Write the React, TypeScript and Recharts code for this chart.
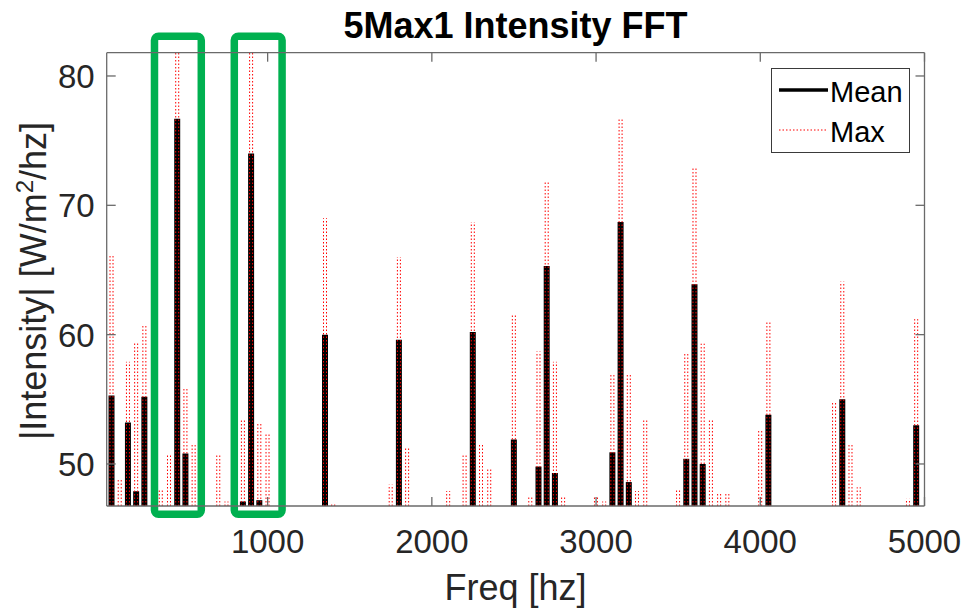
import React from "react";
import { ComposedChart, Bar, XAxis, YAxis, ReferenceArea } from "recharts";

// Mean spectrum peaks (Hz / W/m^2/hz, dB-like scale)
const meanFreq = [50, 150, 200, 250, 450, 500, 850, 900, 950, 1350, 1800, 2250, 2500, 2650, 2700, 2750, 3100, 3150, 3200, 3550, 3600, 3650, 4050, 4500, 4950];
const meanVal = [55.3, 53.2, 47.9, 55.2, 76.7, 50.8, 47.1, 74.0, 47.2, 60.0, 59.6, 60.2, 51.9, 49.8, 65.3, 49.3, 50.9, 68.7, 48.6, 50.4, 63.9, 50.0, 53.8, 55.0, 53.0];

// Max spectrum peaks
const maxFreq = [50, 100, 150, 200, 250, 350, 400, 450, 500, 550, 700, 750, 850, 900, 950, 1000, 1350, 1400, 1750, 1800, 1850, 2100, 2200, 2250, 2300, 2350, 2500, 2600, 2650, 2700, 2750, 2800, 3000, 3050, 3100, 3150, 3200, 3250, 3300, 3500, 3550, 3600, 3650, 3700, 3750, 3800, 4000, 4050, 4450, 4500, 4550, 4600, 4900, 4950];
const maxVal = [66.2, 48.9, 57.9, 59.4, 60.7, 48.0, 50.7, 81.8, 55.9, 51.6, 50.7, 47.1, 53.5, 81.8, 53.1, 52.4, 69.0, 47.0, 48.4, 66.0, 51.3, 47.9, 50.7, 68.7, 51.6, 49.6, 61.6, 47.5, 58.7, 71.8, 57.9, 47.5, 47.5, 47.1, 56.9, 76.7, 56.9, 47.9, 53.4, 48.0, 58.6, 73.0, 59.3, 53.5, 47.8, 47.7, 52.6, 61.0, 54.8, 64.1, 51.6, 48.2, 47.3, 61.2];

const xTicks = [1000, 2000, 3000, 4000, 5000];
const yTicks = [50, 60, 70, 80];
const freqDomain: [number, number] = [20, 5000];
const intensityDomain: [number, number] = [46.75, 81.8];

// green highlight boxes drawn on top of the figure
const highlightBands = [
  [311, 596],
  [797, 1088],
];
const highlightLow = 46.12;
const highlightHigh = 83.08;

const allFreq = Array.from(new Set([...meanFreq, ...maxFreq])).sort((a, b) => a - b);
const chartData = allFreq.map((f) => {
  const mi = meanFreq.indexOf(f);
  const xi = maxFreq.indexOf(f);
  return { f, mean: mi >= 0 ? meanVal[mi] : null, max: xi >= 0 ? maxVal[xi] : null };
});

const AXIS = "#6a6a6a";
const TEXT = "#262626";
const FONT = '"Liberation Sans", Arial, Helvetica, sans-serif';
const TICK_LEN = 9;

const BottomTick = ({ x, y, payload }: any) => (
  <g>
    <line x1={x} x2={x} y1={y} y2={y - TICK_LEN} stroke={AXIS} strokeWidth={1.3} />
    <text x={x} y={y + 47} textAnchor="middle" fontSize={33} fill={TEXT} fontFamily={FONT}>
      {payload.value}
    </text>
  </g>
);

const TopTick = ({ x, y }: any) => (
  <line x1={x} x2={x} y1={y} y2={y + TICK_LEN} stroke={AXIS} strokeWidth={1.3} />
);

const LeftTick = ({ x, y, payload }: any) => (
  <g>
    <line x1={x} x2={x + TICK_LEN} y1={y} y2={y} stroke={AXIS} strokeWidth={1.3} />
    <text x={x - 12} y={y + 12} textAnchor="end" fontSize={33} fill={TEXT} fontFamily={FONT}>
      {payload.value}
    </text>
  </g>
);

const RightTick = ({ x, y }: any) => (
  <line x1={x} x2={x - TICK_LEN} y1={y} y2={y} stroke={AXIS} strokeWidth={1.3} />
);

// red dotted spike, like MATLAB ':' line going up and down
const DottedSpike = (props: any) => {
  const { x, y, width, height } = props;
  if (![x, y, width, height].every(Number.isFinite) || height <= 0) return null;
  const l = x + 0.5;
  const r = x + width - 0.5;
  return (
    <path
      d={`M${l},${y + height}V${y}M${r},${y + height}V${y}`}
      stroke="#ff0000"
      strokeWidth={1}
      strokeDasharray="1.5 2"
      fill="none"
    />
  );
};

const Legend = () => (
  <svg width={140} height={86} style={{ position: "absolute", left: 771, top: 68 }}>
    <rect x={0.5} y={0.5} width={138} height={84} fill="#fff" stroke="#3a3a3a" strokeWidth={1} />
    <line x1={8} x2={57} y1={22} y2={22} stroke="#000" strokeWidth={3.5} />
    <text x={59} y={34} fontSize={29} fill="#000" fontFamily={FONT}>Mean</text>
    <line x1={8} x2={57} y1={62} y2={62} stroke="#ff0000" strokeWidth={1} strokeDasharray="1.5 2" />
    <text x={59} y={74} fontSize={29} fill="#000" fontFamily={FONT}>Max</text>
  </svg>
);

export default function App() {
  return (
    <div
      style={{
        position: "absolute",
        left: 0,
        top: 0,
        width: 961,
        height: 613,
        background: "#fff",
        fontFamily: FONT,
      }}
    >
      <ComposedChart
        width={961}
        height={613}
        data={chartData}
        margin={{ top: 50.7, right: 34.5, bottom: 0, left: 0 }}
      >
        <XAxis
          xAxisId="bottom"
          dataKey="f"
          type="number"
          domain={freqDomain}
          allowDataOverflow
          ticks={xTicks}
          interval={0}
          height={107}
          tickSize={0}
          tickMargin={0}
          tickLine={false}
          tick={<BottomTick />}
          axisLine={{ stroke: AXIS, strokeWidth: 1.3 }}
        />
        <XAxis
          xAxisId="top"
          orientation="top"
          dataKey="f"
          type="number"
          domain={freqDomain}
          allowDataOverflow
          ticks={xTicks}
          interval={0}
          height={2}
          tickSize={0}
          tickMargin={0}
          tickLine={false}
          tick={<TopTick />}
          axisLine={{ stroke: AXIS, strokeWidth: 1.3 }}
        />
        <YAxis
          yAxisId="left"
          type="number"
          domain={intensityDomain}
          allowDataOverflow
          ticks={yTicks}
          interval={0}
          width={106.7}
          tickSize={0}
          tickMargin={0}
          tickLine={false}
          tick={<LeftTick />}
          axisLine={{ stroke: AXIS, strokeWidth: 1.3 }}
        />
        <YAxis
          yAxisId="right"
          orientation="right"
          type="number"
          domain={intensityDomain}
          allowDataOverflow
          ticks={yTicks}
          interval={0}
          width={2}
          tickSize={0}
          tickMargin={0}
          tickLine={false}
          tick={<RightTick />}
          axisLine={{ stroke: AXIS, strokeWidth: 1.3 }}
        />
        <Bar
          xAxisId="bottom"
          yAxisId="left"
          dataKey="mean"
          fill="#000"
          barSize={6}
          isAnimationActive={false}
        />
        <Bar
          xAxisId="top"
          yAxisId="left"
          dataKey="max"
          barSize={4}
          shape={(p: any) => <DottedSpike {...p} />}
          isAnimationActive={false}
        />
        {highlightBands.map(([a, b], i) => (
          <ReferenceArea
            key={i}
            xAxisId="bottom"
            yAxisId="left"
            x1={a}
            x2={b}
            y1={highlightLow}
            y2={highlightHigh}
            ifOverflow="visible"
            fill="none"
            fillOpacity={0}
            stroke="#00b050"
            strokeWidth={7.5}
            radius={4}
          />
        ))}
      </ComposedChart>

      <svg width={961} height={613} style={{ position: "absolute", left: 0, top: 0, pointerEvents: "none" }}>
        <text x={515.5} y={38} textAnchor="middle" fontSize={36} fontWeight="bold" fill="#000" fontFamily={FONT}>
          5Max1 Intensity FFT
        </text>
        <text x={515.5} y={600} textAnchor="middle" fontSize={36} fill={TEXT} fontFamily={FONT}>
          Freq [hz]
        </text>
        <text
          x={46}
          y={281}
          transform="rotate(-90 46 281)"
          textAnchor="middle"
          fontSize={36}
          fill={TEXT}
          fontFamily={FONT}
        >
          <tspan>|Intensity| [W/m</tspan>
          <tspan dy={-13} fontSize={24}>2</tspan>
          <tspan dy={13}>/hz]</tspan>
        </text>
      </svg>
      <Legend />
    </div>
  );
}
